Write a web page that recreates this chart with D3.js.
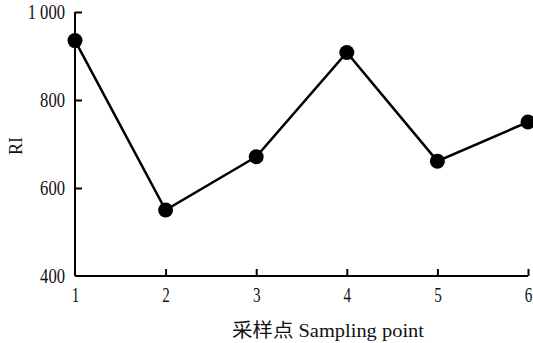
<!DOCTYPE html>
<html><head><meta charset="utf-8">
<script src="https://cdn.jsdelivr.net/npm/d3@7"></script>
<style>body{margin:0;background:#fff}svg{display:block}</style>
</head><body>
<svg id="c" width="533" height="343"></svg>
<script>
const categories = [1, 2, 3, 4, 5, 6];
const riValues = [935, 550, 671, 908, 661, 750];
const yTicks = [400, 600, 800, 1000];
const yTickLabels = ["400", "600", "800", "1 000"];
const xLabel = "采样点 Sampling point";
const yLabel = "RI";

const svg = d3.select("#c");
const x = d3.scaleLinear().domain([1, 6]).range([75, 528]);
const y = d3.scaleLinear().domain([400, 1000]).range([276, 12]);
const font = "'Liberation Serif', 'Noto Sans CJK SC', serif";

function condense(sel, k) {
  sel.each(function () {
    const w = this.getComputedTextLength();
    d3.select(this).attr("textLength", w * k).attr("lengthAdjust", "spacingAndGlyphs");
  });
}

const xAxis = d3.axisBottom(x).tickValues(categories).tickSize(-7).tickPadding(11).tickFormat(d3.format("d"));
const gx = svg.append("g").attr("transform", "translate(0,276)").call(xAxis);
gx.select(".domain").attr("d", "M75,0H528").attr("stroke-width", 2);
gx.selectAll(".tick line").attr("stroke-width", 2).filter(d => d === 1).remove();
gx.selectAll("text").attr("font-family", font).attr("font-size", 21).attr("fill", "#111").call(condense, 0.72);

const yAxis = d3.axisLeft(y).tickValues(yTicks).tickSize(-7).tickPadding(10)
  .tickFormat((d, i) => yTickLabels[i]);
const gy = svg.append("g").attr("transform", "translate(75,0)").call(yAxis);
gy.select(".domain").attr("d", "M0,276V12").attr("stroke-width", 2);
gy.selectAll(".tick line").attr("stroke-width", 2).filter(d => d === 400).remove();
gy.selectAll("text").attr("font-family", font).attr("font-size", 20).attr("fill", "#111").call(condense, 0.83);

const line = d3.line().x((d, i) => x(categories[i])).y(d => y(d));
svg.append("path").datum(riValues).attr("d", line)
  .attr("fill", "none").attr("stroke", "#000").attr("stroke-width", 2.5);

svg.selectAll("circle.pt").data(riValues).join("circle").attr("class", "pt")
  .attr("cx", (d, i) => x(categories[i])).attr("cy", d => y(d)).attr("r", 7.5).attr("fill", "#000");

svg.append("text").attr("x", 328).attr("y", 337).attr("text-anchor", "middle")
  .attr("font-family", font).attr("font-size", 19).attr("fill", "#111")
  .attr("textLength", 192).attr("lengthAdjust", "spacingAndGlyphs").text(xLabel);
svg.append("text").attr("transform", "translate(22,146) rotate(-90)").attr("text-anchor", "middle")
  .attr("font-family", font).attr("font-size", 18).attr("fill", "#111").text(yLabel);
</script>
</body></html>
